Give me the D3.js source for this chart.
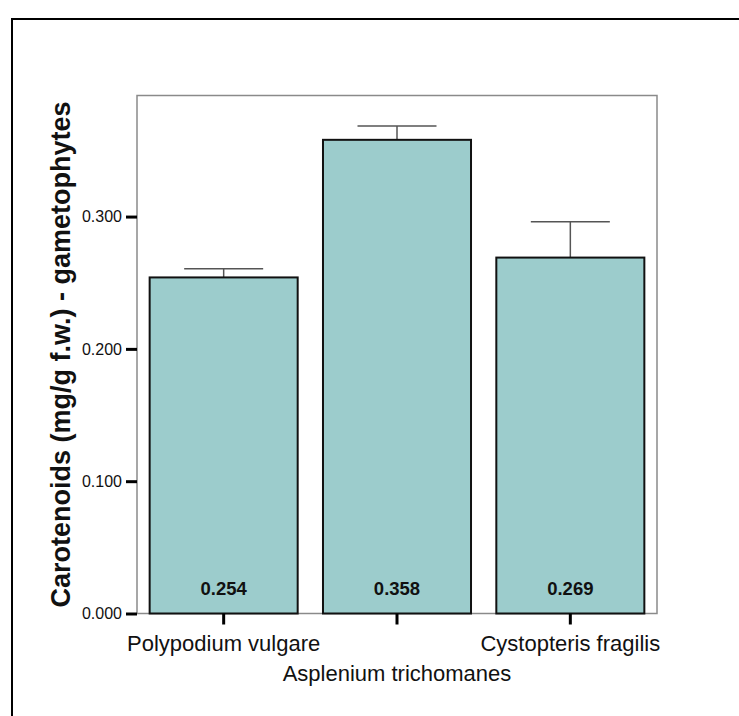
<!DOCTYPE html>
<html><head><meta charset="utf-8">
<script src="https://cdn.jsdelivr.net/npm/d3@7"></script>
<style>body{margin:0;background:#fff}svg{display:block}text{font-family:Arial,"Liberation Sans",sans-serif}</style>
</head><body><svg id="c" width="739" height="716"></svg>
<script>
const categories = ["Polypodium vulgare", "Asplenium trichomanes", "Cystopteris fragilis"];
const means = [0.254, 0.358, 0.269];
const errUpper = [0.2605, 0.3685, 0.296];
const valueLabels = ["0.254", "0.358", "0.269"];
const yTicks = [0, 0.1, 0.2, 0.3];
const yTitle = "Carotenoids (mg/g f.w.) - gametophytes";

const svg = d3.select("#c");
const L = 137, R = 657, T = 95.5, B = 613.5;

// outer border
svg.append("rect").attr("x", 12).attr("y", 19).attr("width", 760).attr("height", 760)
  .attr("fill", "none").attr("stroke", "#000").attr("stroke-width", 2);

const x = d3.scaleBand().domain(categories).range([L, R]).paddingInner(0.146).paddingOuter(0.073);
const y = d3.scaleLinear().domain([0, 0.3915]).range([B, T]);

// frame
svg.append("rect").attr("x", L).attr("y", T).attr("width", R - L).attr("height", B - T)
  .attr("fill", "none").attr("stroke", "#8a8a8a").attr("stroke-width", 1.5);

// error bars
const eb = svg.append("g").attr("stroke", "#555").attr("stroke-width", 1.5);
categories.forEach((c, i) => {
  const cx = x(c) + x.bandwidth() / 2;
  eb.append("line").attr("x1", cx).attr("x2", cx).attr("y1", y(means[i])).attr("y2", y(errUpper[i]));
  eb.append("line").attr("x1", cx - 39.5).attr("x2", cx + 39.5).attr("y1", y(errUpper[i])).attr("y2", y(errUpper[i]));
});

// bars
svg.append("g").selectAll("rect").data(categories).join("rect")
  .attr("x", d => x(d)).attr("width", x.bandwidth())
  .attr("y", (d, i) => y(means[i])).attr("height", (d, i) => y(0) - y(means[i]))
  .attr("fill", "#9ccccc").attr("stroke", "#111").attr("stroke-width", 2);

// value labels
svg.append("g").selectAll("text").data(categories).join("text")
  .attr("x", d => x(d) + x.bandwidth() / 2).attr("y", 595)
  .attr("text-anchor", "middle").attr("font-weight", "bold").attr("font-size", 18.5)
  .attr("fill", "#111").text((d, i) => valueLabels[i]);

// y axis
const yAxis = d3.axisLeft(y).tickValues(yTicks).tickFormat(d3.format(".3f")).tickSize(11).tickPadding(4);
const gy = svg.append("g").attr("transform", `translate(${L},0)`).call(yAxis);
gy.select(".domain").remove();
gy.selectAll(".tick line").attr("stroke", "#000").attr("stroke-width", 3);
gy.selectAll(".tick text").attr("font-size", 16).attr("fill", "#111").style("font-family", "Arial, 'Liberation Sans', sans-serif");

// x axis
const xAxis = d3.axisBottom(x).tickSize(11).tickFormat("");
const gx = svg.append("g").attr("transform", `translate(0,${B})`).call(xAxis);
gx.select(".domain").remove();
gx.selectAll(".tick line").attr("stroke", "#000").attr("stroke-width", 3);

// staggered category labels
svg.append("g").selectAll("text").data(categories).join("text")
  .attr("x", d => x(d) + x.bandwidth() / 2)
  .attr("y", (d, i) => i % 2 === 0 ? 651 : 681)
  .attr("text-anchor", "middle").attr("font-size", 22).attr("fill", "#111")
  .text(d => d);

// y title
svg.append("text").attr("transform", `translate(70,${(T + B) / 2}) rotate(-90)`)
  .attr("text-anchor", "middle").attr("font-weight", "bold").attr("font-size", 27).attr("fill", "#111")
  .text(yTitle);
</script></body></html>
